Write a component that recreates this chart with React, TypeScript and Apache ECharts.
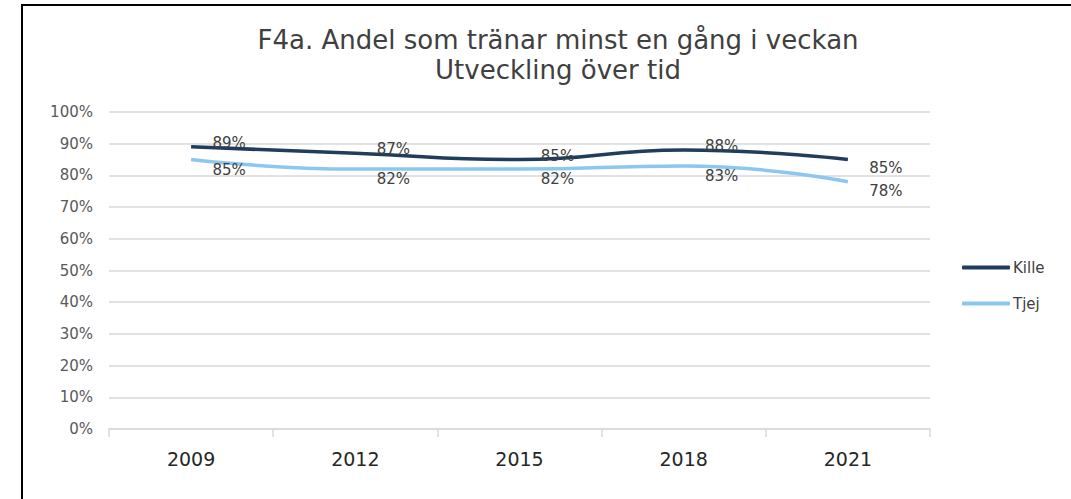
import React, { useEffect, useRef } from "react";
import * as echarts from "echarts";

const years = ["2009", "2012", "2015", "2018", "2021"];
const kille = [89, 87, 85, 88, 85];
const tjej = [85, 82, 82, 83, 78];
const yTicks = [0, 10, 20, 30, 40, 50, 60, 70, 80, 90, 100];
const titleLines = ["F4a. Andel som tränar minst en gång i veckan", "Utveckling över tid"];

export default function App() {
  const ref = useRef<HTMLDivElement>(null);
  useEffect(() => {
    if (!ref.current) return;
    const chart = echarts.init(ref.current, null, { renderer: "svg" });
    const labelFont = { fontFamily: "DejaVu Sans", fontSize: 15, color: "#404040" };
    const mk = (vals: number[], above: boolean) =>
      vals.map((v, i) => {
        const last = i === vals.length - 1;
        let dy = above ? -4 : 10;
        if (last) dy = above ? 8 : 9;
        return {
          value: v,
          label: {
            show: true,
            position: "inside",
            offset: [38, dy],
            formatter: "{c}%",
            ...labelFont,
          },
        };
      });
    chart.setOption({
      animation: false,
      backgroundColor: "#ffffff",
      title: {
        text: titleLines.join("\n"),
        left: 553,
        textAlign: "center",
        top: 20,
        textStyle: {
          fontFamily: "DejaVu Sans",
          fontSize: 26,
          fontWeight: "normal",
          color: "#404040",
          lineHeight: 30,
        },
      },
      graphic: [
        { type: "line", shape: { x1: 22, y1: 5, x2: 22, y2: 499 }, style: { stroke: "#000", lineWidth: 2 } },
        { type: "line", shape: { x1: 21, y1: 5, x2: 1071, y2: 5 }, style: { stroke: "#000", lineWidth: 2 } },
      ],
      legend: {
        orient: "vertical",
        left: 962,
        top: 260,
        padding: 0,
        itemWidth: 48,
        itemHeight: 4,
        itemGap: 21,
        icon: "roundRect",
        textStyle: { fontFamily: "DejaVu Sans", fontSize: 15, color: "#404040", padding: [0, 0, 0, -2] },
        data: ["Kille", "Tjej"],
      },
      grid: { left: 109, right: 141, top: 112, bottom: 70 },
      xAxis: {
        type: "category",
        data: years,
        boundaryGap: true,
        axisLine: { lineStyle: { color: "#D9D9D9", width: 1.5 } },
        axisTick: { show: true, length: 8, lineStyle: { color: "#D9D9D9", width: 1.5 } },
        axisLabel: {
          fontFamily: "DejaVu Sans",
          fontSize: 19,
          color: "#262626",
          margin: 20,
        },
      },
      yAxis: {
        type: "value",
        min: 0,
        max: 100,
        interval: 10,
        axisLine: { show: false },
        axisTick: { show: false },
        axisLabel: {
          formatter: (v: number) => (yTicks.includes(v) ? v + "%" : ""),
          fontFamily: "DejaVu Sans",
          fontSize: 15,
          color: "#595959",
          margin: 16,
        },
        splitLine: { lineStyle: { color: "#D9D9D9", width: 1.5 } },
      },
      series: [
        {
          name: "Kille",
          type: "line",
          data: mk(kille, true),
          smooth: 0.5,
          symbol: "circle",
          symbolSize: 0.01,
          lineStyle: { color: "#203D5B", width: 3.5 },
          itemStyle: { color: "#203D5B" },
        },
        {
          name: "Tjej",
          type: "line",
          data: mk(tjej, false),
          smooth: 0.5,
          symbol: "circle",
          symbolSize: 0.01,
          lineStyle: { color: "#8CC7F0", width: 3.5 },
          itemStyle: { color: "#8CC7F0" },
        },
      ],
    });
    return () => chart.dispose();
  }, []);
  return (
    <div
      ref={ref}
      style={{ position: "fixed", left: 0, top: 0, width: 1071, height: 499, background: "#fff" }}
    />
  );
}
